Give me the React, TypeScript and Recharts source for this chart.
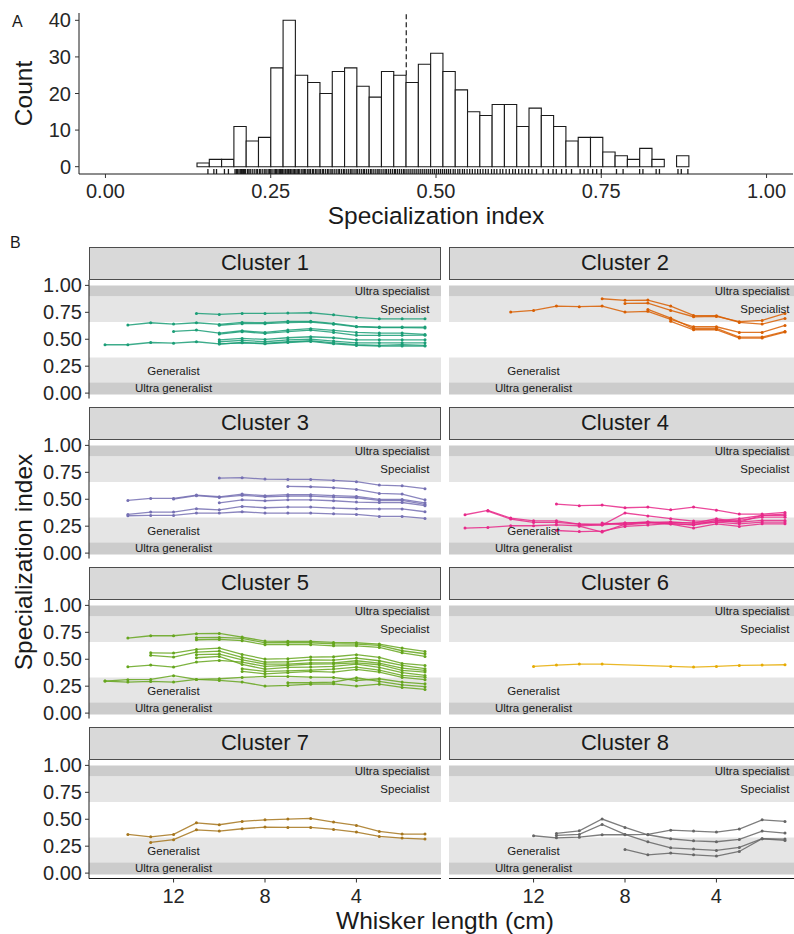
import React from 'react';
import {
  ComposedChart,
  LineChart,
  Line,
  Scatter,
  XAxis,
  YAxis,
  ReferenceArea,
  ReferenceLine,
  ReferenceDot,
} from 'recharts';

const FONT = '"Liberation Sans", Arial, Helvetica, sans-serif';
const INK = '#1a1a1a';

// ---- panel A: histogram of specialization index ----
const histStart = 0.1385;
const histBinWidth = 0.0186;
const histCounts = [
  1, 2, 2, 11, 7, 8, 27, 40, 25, 23, 20, 26, 27, 22, 19, 26, 25, 23, 28, 31,
  26, 21, 15, 14, 17, 17, 11, 16, 14, 11, 7, 8, 8, 4, 3, 2, 5, 2, 0, 3,
];
const meanIndex = 0.455;
const histXTicks = [0, 0.25, 0.5, 0.75, 1];
const histYTicks = [0, 10, 20, 30, 40];
const rugValues = [
  0.155, 0.164, 0.168, 0.18, 0.186, 0.196, 0.198, 0.2, 0.202, 0.204, 0.206, 0.207,
  0.209, 0.21, 0.211, 0.212, 0.215, 0.217, 0.219, 0.222, 0.225, 0.228, 0.23, 0.233,
  0.235, 0.238, 0.241, 0.243, 0.246, 0.248,
  0.25, 0.252, 0.255, 0.257, 0.259, 0.261, 0.263, 0.265, 0.266, 0.268, 0.27, 0.272,
  0.273, 0.275, 0.277, 0.279, 0.28, 0.282, 0.284, 0.286, 0.288, 0.29, 0.292, 0.294,
  0.297, 0.299, 0.301, 0.303, 0.306, 0.308, 0.31, 0.313, 0.315, 0.318, 0.32, 0.323,
  0.325, 0.328, 0.33, 0.333, 0.336, 0.338, 0.341, 0.343, 0.346, 0.349, 0.352, 0.354,
  0.357, 0.36, 0.362, 0.365, 0.368, 0.371, 0.373, 0.376, 0.379, 0.381, 0.384, 0.387,
  0.39, 0.392, 0.395, 0.398, 0.401, 0.403, 0.406, 0.409, 0.412, 0.414, 0.417, 0.42,
  0.423, 0.425, 0.428, 0.431, 0.434, 0.437, 0.439, 0.442, 0.445, 0.448, 0.451, 0.453,
  0.456, 0.459, 0.462, 0.465, 0.468, 0.471, 0.474, 0.477, 0.48, 0.483, 0.486, 0.489,
  0.492, 0.495, 0.498, 0.501, 0.504, 0.507, 0.51, 0.513, 0.516, 0.519, 0.522, 0.526,
  0.529, 0.533, 0.536, 0.54, 0.543, 0.547, 0.551, 0.555, 0.559, 0.563, 0.567, 0.571,
  0.575, 0.579, 0.584, 0.588, 0.592, 0.597, 0.601, 0.606, 0.611, 0.616, 0.62, 0.625,
  0.63, 0.635, 0.64, 0.645, 0.652, 0.662, 0.67, 0.677, 0.682, 0.69, 0.697, 0.705,
  0.718, 0.724, 0.73, 0.737, 0.743, 0.75, 0.773, 0.783, 0.808, 0.813, 0.833, 0.838,
  0.866, 0.871, 0.881,
];

// ---- panel B: index along the whisker, per cluster ----
const whiskerLengths = [15, 14, 13, 12, 11, 10, 9, 8, 7, 6, 5, 4, 3, 2, 1];
const whiskerTicks = [12, 8, 4];
const indexTicks = [0, 0.25, 0.5, 0.75, 1];

const bandLow = [-0.012, 0.1, 0.66, 0.9];
const bandHigh = [0.1, 0.33, 0.9, 1.0];
const bandFills = ['#cccccc', '#e5e5e5', '#e5e5e5', '#cccccc'];
const bandNames = ['Ultra generalist', 'Generalist', 'Specialist', 'Ultra specialist'];
const bandLabelX = [12, 12, 0.8, 0.8];
const bandLabelY = [0.05, 0.21, 0.777, 0.945];

const _ = null;
const cluster1 = [
  [_, _, _, _, 0.74, 0.73, 0.74, 0.74, 0.743, 0.746, 0.727, 0.703, 0.69, 0.69, 0.69],
  [_, 0.632, 0.653, 0.641, 0.653, 0.638, 0.656, 0.653, 0.666, 0.666, 0.647, 0.619, 0.613, 0.613, 0.613],
  [_, _, _, _, _, 0.63, 0.645, 0.645, 0.655, 0.66, 0.64, 0.615, 0.608, 0.608, 0.605],
  [_, _, _, 0.573, 0.585, 0.557, 0.579, 0.563, 0.585, 0.598, 0.582, 0.563, 0.557, 0.557, 0.545],
  [_, _, _, _, _, 0.548, 0.57, 0.554, 0.57, 0.585, 0.563, 0.536, 0.536, 0.536, 0.538],
  [_, _, _, _, _, 0.495, 0.508, 0.498, 0.514, 0.523, 0.514, 0.495, 0.495, 0.495, 0.495],
  [_, _, _, _, _, 0.477, 0.489, 0.477, 0.495, 0.502, 0.483, 0.467, 0.467, 0.467, 0.467],
  [_, _, _, _, _, 0.455, 0.47, 0.461, 0.477, 0.486, 0.467, 0.449, 0.443, 0.449, 0.443],
  [0.449, 0.449, 0.47, 0.464, 0.477, 0.458, 0.467, 0.458, 0.47, 0.48, 0.458, 0.443, 0.437, 0.437, 0.437],
];
const cluster2 = [
  [_, _, 0.752, 0.768, 0.808, 0.802, 0.808, 0.752, 0.759, 0.684, 0.616, 0.616, 0.563, 0.563, 0.628],
  [_, _, _, _, _, _, 0.876, 0.861, 0.864, 0.808, 0.721, 0.718, 0.656, 0.641, 0.693],
  [_, _, _, _, _, _, _, 0.833, 0.836, 0.768, 0.709, 0.712, 0.663, 0.675, 0.74],
  [_, _, _, _, _, _, _, _, 0.777, 0.697, 0.6, 0.6, 0.52, 0.52, 0.573],
  [_, _, _, _, _, _, _, _, _, 0.666, 0.588, 0.59, 0.511, 0.511, 0.567],
];
const cluster3 = [
  [_, _, _, _, _, 0.697, 0.7, 0.687, 0.684, 0.684, 0.675, 0.663, 0.632, 0.625, 0.598],
  [_, _, _, _, _, _, _, _, 0.619, 0.616, 0.607, 0.591, 0.554, 0.548, 0.495],
  [_, 0.489, 0.508, 0.508, 0.539, 0.523, 0.548, 0.533, 0.542, 0.542, 0.533, 0.526, 0.498, 0.498, 0.467],
  [_, _, _, 0.502, 0.533, 0.517, 0.536, 0.523, 0.529, 0.529, 0.52, 0.514, 0.489, 0.489, 0.452],
  [_, _, _, _, _, 0.467, 0.495, 0.486, 0.495, 0.495, 0.486, 0.474, 0.47, 0.47, 0.44],
  [_, 0.359, 0.381, 0.381, 0.412, 0.402, 0.433, 0.421, 0.427, 0.427, 0.418, 0.412, 0.41, 0.41, 0.384],
  [_, 0.347, 0.35, 0.35, 0.372, 0.372, 0.384, 0.372, 0.372, 0.372, 0.365, 0.359, 0.341, 0.341, 0.322],
];
const cluster4 = [
  [_, _, _, _, 0.455, 0.44, 0.446, 0.421, 0.427, 0.402, 0.427, 0.399, 0.362, 0.362, 0.378],
  [0.356, 0.396, 0.325, 0.3, 0.3, 0.27, 0.26, 0.372, 0.345, 0.32, 0.297, 0.3, 0.319, 0.35, 0.35],
  [_, 0.39, 0.316, 0.285, 0.285, 0.27, 0.27, 0.28, 0.288, 0.288, 0.279, 0.288, 0.303, 0.334, 0.334],
  [0.232, 0.238, 0.254, 0.254, 0.263, 0.254, 0.263, 0.279, 0.288, 0.272, 0.263, 0.303, 0.288, 0.303, 0.303],
  [_, _, _, _, 0.21, 0.2, 0.204, 0.248, 0.26, 0.276, 0.263, 0.288, 0.272, 0.288, 0.288],
  [_, _, _, _, _, 0.25, 0.195, 0.27, 0.285, 0.27, 0.232, 0.272, 0.248, 0.272, 0.272],
  [_, _, _, _, _, _, 0.279, 0.263, 0.279, 0.288, 0.279, 0.319, 0.288, 0.35, 0.362],
];
const cluster5 = [
  [_, 0.697, 0.718, 0.718, 0.737, 0.74, 0.706, 0.669, 0.666, 0.666, 0.656, 0.653, 0.641, 0.604, 0.573],
  [_, _, _, _, 0.7, 0.703, 0.693, 0.653, 0.653, 0.653, 0.644, 0.641, 0.628, 0.579, 0.551],
  [_, _, _, _, 0.681, 0.684, 0.672, 0.635, 0.635, 0.635, 0.625, 0.625, 0.61, 0.56, 0.526],
  [_, _, 0.56, 0.557, 0.591, 0.604, 0.545, 0.502, 0.505, 0.52, 0.523, 0.542, 0.517, 0.461, 0.443],
  [_, _, 0.536, 0.52, 0.567, 0.576, 0.517, 0.474, 0.477, 0.495, 0.492, 0.511, 0.486, 0.443, 0.412],
  [_, 0.43, 0.446, 0.427, 0.474, 0.489, 0.474, 0.433, 0.443, 0.455, 0.458, 0.467, 0.449, 0.396, 0.381],
  [_, _, _, _, 0.542, 0.548, 0.495, 0.455, 0.455, 0.467, 0.467, 0.486, 0.464, 0.418, 0.396],
  [_, _, _, _, 0.514, 0.526, 0.452, 0.409, 0.424, 0.427, 0.433, 0.455, 0.424, 0.375, 0.35],
  [_, _, _, _, _, _, 0.412, 0.387, 0.393, 0.399, 0.409, 0.427, 0.399, 0.35, 0.334],
  [_, _, _, _, _, _, 0.387, 0.365, 0.375, 0.387, 0.381, 0.406, 0.381, 0.331, 0.31],
  [0.297, 0.288, 0.294, 0.288, 0.313, 0.319, 0.331, 0.341, 0.341, 0.334, 0.331, 0.303, 0.319, 0.288, 0.272],
  [0.297, 0.31, 0.313, 0.347, 0.313, 0.303, 0.288, 0.251, 0.257, 0.269, 0.272, 0.251, 0.269, 0.238, 0.22],
  [_, _, _, _, _, _, _, _, 0.282, 0.282, 0.288, 0.328, 0.294, 0.263, 0.245],
];
const cluster6 = [
  [_, _, _, 0.433, 0.446, 0.455, 0.455, _, _, 0.433, 0.427, 0.433, 0.443, 0.446, 0.449],
];
const cluster7 = [
  [_, 0.359, 0.337, 0.359, 0.467, 0.449, 0.48, 0.495, 0.502, 0.508, 0.474, 0.443, 0.387, 0.362, 0.362],
  [_, _, 0.285, 0.31, 0.402, 0.39, 0.412, 0.427, 0.424, 0.424, 0.406, 0.381, 0.341, 0.325, 0.316],
];
const cluster8 = [
  [_, _, _, 0.347, 0.328, 0.334, 0.356, 0.356, 0.359, 0.399, 0.39, 0.381, 0.409, 0.495, 0.48],
  [_, _, _, _, 0.368, 0.393, 0.502, 0.424, 0.356, 0.319, 0.3, 0.291, 0.313, 0.39, 0.372],
  [_, _, _, _, 0.35, 0.359, 0.452, 0.359, 0.291, 0.235, 0.223, 0.211, 0.238, 0.319, 0.316],
  [_, _, _, _, _, _, _, 0.22, 0.17, 0.186, 0.17, 0.158, 0.201, 0.319, 0.303],
];

const clusterNames = ['Cluster 1', 'Cluster 2', 'Cluster 3', 'Cluster 4', 'Cluster 5', 'Cluster 6', 'Cluster 7', 'Cluster 8'];
const clusterSeries = [cluster1, cluster2, cluster3, cluster4, cluster5, cluster6, cluster7, cluster8];
const clusterColors = ['#1b9e77', '#d95f02', '#7570b3', '#e7298a', '#66a61e', '#e6ab02', '#a6761d', '#666666'];

const tickStyle = { fill: '#262626', fontSize: 20, fontFamily: FONT };

function RugTick(props: any) {
  const { cx, cy } = props;
  if (cx == null || cy == null) return null;
  return <line x1={cx} x2={cx} y1={cy} y2={cy - 5} stroke={INK} strokeWidth={1.3} />;
}

function Histogram() {
  const rug = rugValues.map((v) => ({ x: v, y: -2 }));
  return (
    <div style={{ position: 'absolute', left: 0, top: 0 }}>
      <ComposedChart width={794} height={230} margin={{ top: 13, right: 1, bottom: 0, left: 0 }}>
        <XAxis
          type="number"
          dataKey="x"
          domain={[-0.04, 1.04]}
          allowDataOverflow
          ticks={histXTicks}
          interval={0}
          tickFormatter={(v: number) => v.toFixed(2)}
          height={56}
          tickSize={4}
          tickMargin={6}
          tick={tickStyle}
          axisLine={{ stroke: INK }}
          tickLine={{ stroke: '#333' }}
        />
        <YAxis
          type="number"
          dataKey="y"
          domain={[-2, 42]}
          allowDataOverflow
          ticks={histYTicks}
          interval={0}
          width={79}
          tickSize={4}
          tickMargin={4}
          tick={tickStyle}
          axisLine={{ stroke: INK }}
          tickLine={{ stroke: '#333' }}
        />
        <ReferenceLine
          segment={[{ x: meanIndex, y: 25 }, { x: meanIndex, y: 42 }]}
          stroke={INK}
          strokeWidth={1.2}
          strokeDasharray="5 3"
          ifOverflow="visible"
        />
        {histCounts.map((c, i) => (
          <ReferenceArea
            key={i}
            x1={histStart + i * histBinWidth}
            x2={histStart + (i + 1) * histBinWidth}
            y1={0}
            y2={c}
            fill="#ffffff"
            fillOpacity={1}
            stroke={INK}
            strokeWidth={1.1}
            ifOverflow="visible"
          />
        ))}
        <Scatter data={rug} shape={RugTick} isAnimationActive={false} />
      </ComposedChart>
    </div>
  );
}

function Facet({ idx }: { idx: number }) {
  const col = idx % 2;
  const row = Math.floor(idx / 2);
  const series = clusterSeries[idx];
  const color = clusterColors[idx];
  const rows = whiskerLengths.map((w, i) => {
    const r: any = { x: w };
    series.forEach((s, k) => {
      r['s' + k] = s[i];
    });
    return r;
  });
  const showY = col === 0;
  const showX = row === 3;
  const pad = 12; // room for the end tick labels
  const plotTop = 279.6 + row * 160;
  const plotH = 118.5;
  const left = col === 0 ? 0 : 449;
  const width = 352 + (showY ? 89 : 0);
  const height = plotH + pad + (showX ? 50 : pad);

  return (
    <>
      <div
        style={{
          position: 'absolute',
          left: col === 0 ? 89 : 449,
          top: 246.7 + row * 160,
          width: 352,
          height: 33,
          boxSizing: 'border-box',
          background: '#d9d9d9',
          border: '1px solid #4d4d4d',
          display: 'flex',
          alignItems: 'center',
          justifyContent: 'center',
          fontSize: 22,
          color: INK,
        }}
      >
        {clusterNames[idx]}
      </div>
      <div style={{ position: 'absolute', left, top: plotTop - pad, width }}>
        <LineChart
          width={width}
          height={height}
          data={rows}
          margin={{ top: pad, right: 0, bottom: showX ? 0 : pad, left: 0 }}
        >
          <XAxis
            type="number"
            dataKey="x"
            domain={[0.3, 15.7]}
            allowDataOverflow
            reversed
            ticks={whiskerTicks}
            interval={0}
            hide={!showX}
            height={50}
            tickSize={4}
            tickMargin={6}
            tick={tickStyle}
            axisLine={{ stroke: INK }}
            tickLine={{ stroke: '#333' }}
          />
          <YAxis
            type="number"
            domain={[-0.05, 1.05]}
            allowDataOverflow
            ticks={indexTicks}
            interval={0}
            tickFormatter={(v: number) => v.toFixed(2)}
            hide={!showY}
            width={89}
            tickSize={4}
            tickMargin={3}
            tick={tickStyle}
            axisLine={{ stroke: INK }}
            tickLine={{ stroke: '#333' }}
          />
          {bandNames.map((name, b) => (
            <ReferenceArea
              key={name}
              y1={bandLow[b]}
              y2={bandHigh[b]}
              fill={bandFills[b]}
              fillOpacity={1}
              stroke="none"
              ifOverflow="visible"
            />
          ))}
          {bandNames.map((name, b) => (
            <ReferenceDot
              key={'l' + name}
              x={bandLabelX[b]}
              y={bandLabelY[b]}
              r={0}
              fill="none"
              stroke="none"
              label={{
                value: name,
                position: b < 2 ? 'center' : 'left',
                offset: 0,
                fontSize: 11.5,
                fill: INK,
                fontFamily: FONT,
              }}
            />
          ))}
          {series.map((_s, k) => (
            <Line
              key={k}
              dataKey={'s' + k}
              stroke={color}
              strokeWidth={1.3}
              strokeOpacity={0.85}
              dot={{ r: 1.5, fill: color, stroke: 'none' }}
              activeDot={false}
              connectNulls
              isAnimationActive={false}
            />
          ))}
        </LineChart>
      </div>
    </>
  );
}

export default function App() {
  return (
    <div
      style={{
        position: 'absolute',
        left: 0,
        top: 0,
        width: 794,
        height: 934,
        overflow: 'hidden',
        background: '#ffffff',
        fontFamily: FONT,
      }}
    >
      <Histogram />
      {clusterNames.map((n, i) => (
        <Facet key={n} idx={i} />
      ))}
      <svg
        width={794}
        height={934}
        style={{ position: 'absolute', left: 0, top: 0, pointerEvents: 'none' }}
        fontFamily={FONT}
      >
        <text x={12} y={26.5} fontSize={16} fill={INK}>A</text>
        <text x={10} y={248} fontSize={16} fill={INK}>B</text>
        <text transform="translate(31.5,93.5) rotate(-90)" textAnchor="middle" fontSize={24.5} fill={INK}>
          Count
        </text>
        <text x={436} y={223.5} textAnchor="middle" fontSize={24.5} fill={INK}>
          Specialization index
        </text>
        <text transform="translate(31.5,562) rotate(-90)" textAnchor="middle" fontSize={24.5} fill={INK}>
          Specialization index
        </text>
        <text x={445} y={929} textAnchor="middle" fontSize={24.5} fill={INK}>
          Whisker length (cm)
        </text>
      </svg>
    </div>
  );
}
